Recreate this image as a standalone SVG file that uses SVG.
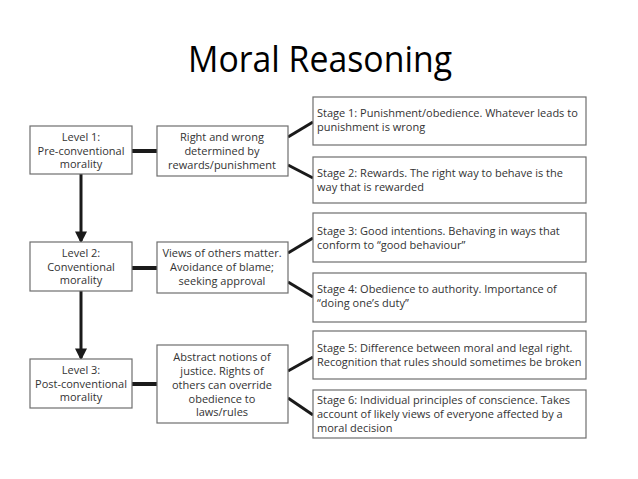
<svg xmlns="http://www.w3.org/2000/svg" width="638" height="479" viewBox="0 0 638 479">
<style>
.box{fill:#fff;stroke:#6e6e6e;stroke-width:1.2}
.t{font-family:"Open Sans","Noto Sans","Liberation Sans",sans-serif;font-size:11px;fill:#333}
.c{text-anchor:middle}
.title{font-family:"Open Sans","Liberation Sans",sans-serif;font-size:36px;fill:#000}
.thick{stroke:#1a1a1a;stroke-width:4;fill:none}
.diag{stroke:#1a1a1a;stroke-width:3;fill:none}
.arr{stroke:#1a1a1a;stroke-width:3;fill:none}
</style>
<defs>
<marker id="ah" markerWidth="4" markerHeight="4" refX="3.2" refY="2" orient="auto" markerUnits="strokeWidth">
<path d="M0,0 L4,2 L0,4 z" fill="#1a1a1a"/>
</marker>
</defs>
<rect width="638" height="479" fill="#fff"/>
<text class="title" x="320" y="72" text-anchor="middle" textLength="264" lengthAdjust="spacingAndGlyphs">Moral Reasoning</text>

<g id="connectors">
<line class="thick" x1="132" y1="151" x2="157" y2="151"/>
<line class="thick" x1="132" y1="268" x2="157" y2="268"/>
<line class="thick" x1="132" y1="384" x2="157" y2="384"/>
<line class="diag" x1="288" y1="137" x2="313" y2="122"/>
<line class="diag" x1="288" y1="165" x2="313" y2="178"/>
<line class="diag" x1="288" y1="253" x2="313" y2="238"/>
<line class="diag" x1="288" y1="282" x2="313" y2="297"/>
<line class="diag" x1="288" y1="371" x2="313" y2="357"/>
<line class="diag" x1="288" y1="398" x2="313" y2="415"/>
<line class="arr" x1="81" y1="174" x2="81" y2="241" marker-end="url(#ah)"/>
<line class="arr" x1="81" y1="291" x2="81" y2="358" marker-end="url(#ah)"/>
</g>

<g id="level1">
<rect class="box" x="30" y="126" width="102" height="48"/>
<text class="t c" x="81" y="141">Level 1:</text>
<text class="t c" x="81" y="154.5">Pre-conventional</text>
<text class="t c" x="81" y="168">morality</text>
</g>
<g id="desc1">
<rect class="box" x="157" y="126" width="131" height="50"/>
<text class="t c" x="222" y="141">Right and wrong</text>
<text class="t c" x="222" y="155">determined by</text>
<text class="t c" x="222" y="169">rewards/punishment</text>
</g>
<g id="stage1">
<rect class="box" x="313" y="97" width="273" height="48"/>
<text class="t" x="317" y="117">Stage 1: Punishment/obedience. Whatever leads to</text>
<text class="t" x="317" y="131">punishment is wrong</text>
</g>
<g id="stage2">
<rect class="box" x="313" y="157" width="273" height="46"/>
<text class="t" x="317" y="177">Stage 2: Rewards. The right way to behave is the</text>
<text class="t" x="317" y="191">way that is rewarded</text>
</g>

<g id="level2">
<rect class="box" x="30" y="242" width="102" height="49"/>
<text class="t c" x="81" y="257">Level 2:</text>
<text class="t c" x="81" y="270.5">Conventional</text>
<text class="t c" x="81" y="284">morality</text>
</g>
<g id="desc2">
<rect class="box" x="157" y="242" width="131" height="51"/>
<text class="t c" x="222" y="257">Views of others matter.</text>
<text class="t c" x="222" y="271">Avoidance of blame;</text>
<text class="t c" x="222" y="285">seeking approval</text>
</g>
<g id="stage3">
<rect class="box" x="313" y="213" width="273" height="49"/>
<text class="t" x="317" y="235">Stage 3: Good intentions. Behaving in ways that</text>
<text class="t" x="317" y="249">conform to “good behaviour”</text>
</g>
<g id="stage4">
<rect class="box" x="313" y="273" width="273" height="49"/>
<text class="t" x="317" y="293">Stage 4: Obedience to authority. Importance of</text>
<text class="t" x="317" y="307">“doing one’s duty”</text>
</g>

<g id="level3">
<rect class="box" x="30" y="359" width="102" height="49"/>
<text class="t c" x="81" y="374">Level 3:</text>
<text class="t c" x="81" y="387.5">Post-conventional</text>
<text class="t c" x="81" y="401">morality</text>
</g>
<g id="desc3">
<rect class="box" x="157" y="345" width="131" height="78"/>
<text class="t c" x="222" y="361">Abstract notions of</text>
<text class="t c" x="222" y="375">justice. Rights of</text>
<text class="t c" x="222" y="389">others can override</text>
<text class="t c" x="222" y="402.5">obedience to</text>
<text class="t c" x="222" y="416">laws/rules</text>
</g>
<g id="stage5">
<rect class="box" x="313" y="331" width="273" height="48"/>
<text class="t" x="317" y="352">Stage 5: Difference between moral and legal right.</text>
<text class="t" x="317" y="366">Recognition that rules should sometimes be broken</text>
</g>
<g id="stage6">
<rect class="box" x="313" y="390" width="273" height="48"/>
<text class="t" x="317" y="404">Stage 6: Individual principles of conscience. Takes</text>
<text class="t" x="317" y="418">account of likely views of everyone affected by a</text>
<text class="t" x="317" y="432">moral decision</text>
</g>
</svg>
